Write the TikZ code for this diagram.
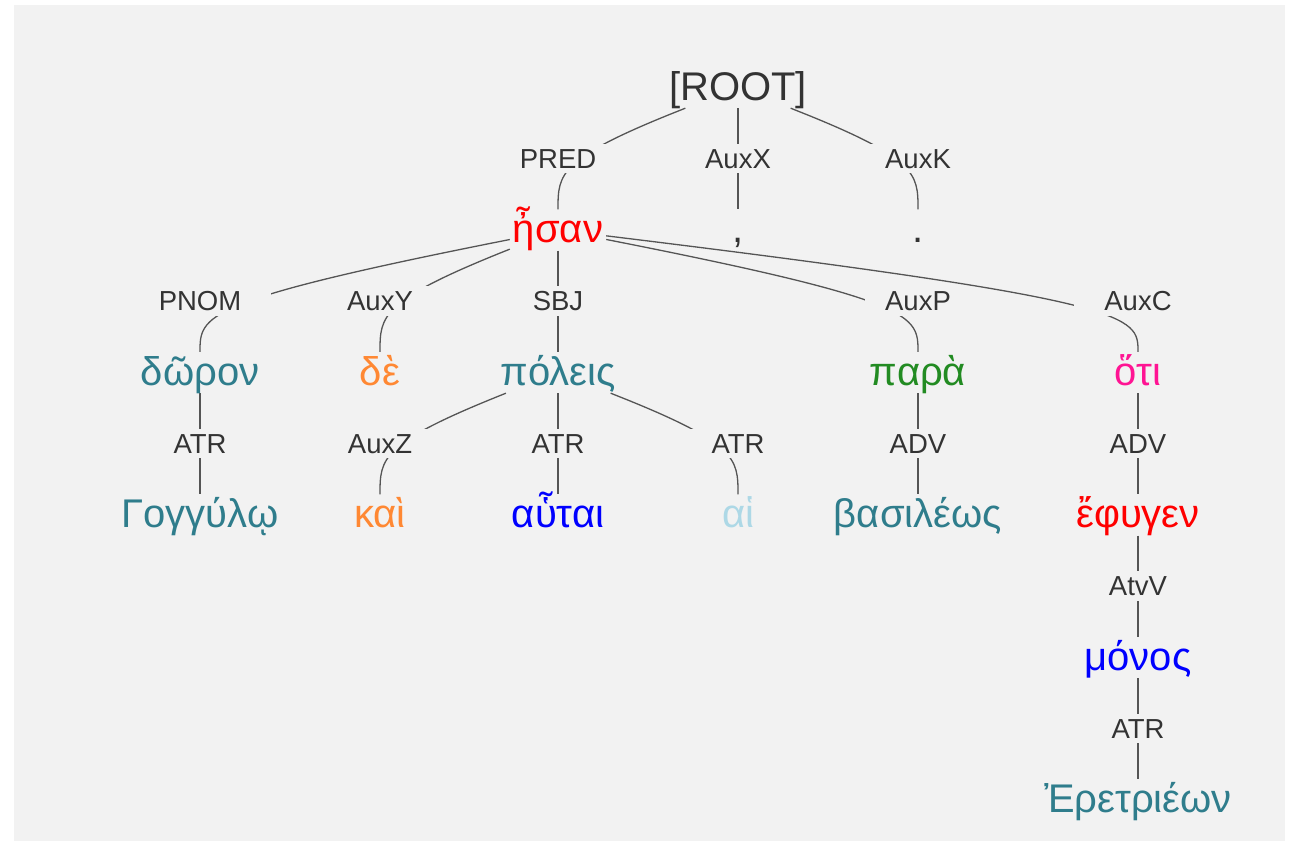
\documentclass[tikz,border=0pt]{standalone}
\usepackage{fontspec}
\setmainfont{Liberation Sans}
\usetikzlibrary{calc}
\definecolor{bggray}{HTML}{F2F2F2}
\definecolor{txtdark}{HTML}{333333}
\definecolor{edgegray}{HTML}{555555}
\definecolor{wteal}{HTML}{2F7D8C}
\definecolor{worange}{HTML}{FF8833}
\definecolor{wgreen}{HTML}{228B22}
\definecolor{wpink}{HTML}{FF1493}
\definecolor{wlblue}{HTML}{ADD8E6}
\definecolor{wblue}{HTML}{0000FF}
\definecolor{wred}{HTML}{FF0000}
\pgfdeclarelayer{bglayer}
\pgfdeclarelayer{edgelayer}
\pgfsetlayers{bglayer,edgelayer,main}
\newcommand\treeedge[3]{\draw[edge] (#1) .. controls (#2.center) and ($(#2.center)+(0,15)$) .. (#3);}
\begin{document}
\begin{tikzpicture}[x=1pt,y=-1pt,
  word/.style={font=\fontsize{40}{40}\selectfont, anchor=base, inner xsep=3pt, inner ysep=0pt, text height=33pt, text depth=8pt},
  lab/.style={font=\fontsize{27.5}{27.5}\selectfont, text=txtdark, anchor=base, fill=bggray, inner xsep=30pt, inner ysep=5pt, text height=19.5pt, text depth=0pt},
  edge/.style={draw=edgegray, line width=1.3pt}]
\useasboundingbox (0,0) rectangle (1289,843);
\begin{pgfonlayer}{bglayer}
\fill[bggray] (14,5) rectangle (1285,841);
\end{pgfonlayer}
% words
\node[word, text=txtdark] (root) at (738,100) {[ROOT]};
\node[word, text=wred] (esan) at (558,242.5) {ἦσαν};
\node[word, text=txtdark] (comma) at (738,242.5) {,};
\node[word, text=txtdark] (period) at (918,242.5) {.};
\node[word, text=wteal] (doron) at (200,385) {δῶρον};
\node[word, text=worange] (de) at (380,385) {δὲ};
\node[word, text=wteal] (poleis) at (558,385) {πόλεις};
\node[word, text=wgreen] (para) at (918,385) {παρὰ};
\node[word, text=wpink] (hoti) at (1138,385) {ὅτι};
\node[word, text=wteal] (gongylo) at (200,527.5) {Γογγύλῳ};
\node[word, text=worange] (kai) at (380,527.5) {καὶ};
\node[word, text=wblue] (autai) at (558,527.5) {αὗται};
\node[word, text=wlblue] (hai) at (738,527.5) {αἱ};
\node[word, text=wteal] (basileos) at (918,527.5) {βασιλέως};
\node[word, text=wred] (ephygen) at (1138,527.5) {ἔφυγεν};
\node[word, text=wblue] (monos) at (1138,670) {μόνος};
\node[word, text=wteal] (eretrieon) at (1138,812.5) {Ἐρετριέων};
% labels
\node[lab] (lpred) at (558,168) {PRED};
\node[lab] (lauxx) at (738,168) {AuxX};
\node[lab] (lauxk) at (918,168) {AuxK};
\node[lab] (lpnom) at (200,310.5) {PNOM};
\node[lab] (lauxy) at (380,310.5) {AuxY};
\node[lab] (lsbj) at (558,310.5) {SBJ};
\node[lab, inner xsep=20pt] (lauxp) at (918,310.5) {AuxP};
\node[lab] (lauxc) at (1138,310.5) {AuxC};
\node[lab] (latra) at (200,453) {ATR};
\node[lab] (lauxz) at (380,453) {AuxZ};
\node[lab] (latrb) at (558,453) {ATR};
\node[lab] (latrc) at (738,453) {ATR};
\node[lab] (ladva) at (918,453) {ADV};
\node[lab] (ladvb) at (1138,453) {ADV};
\node[lab] (latvv) at (1138,595.5) {AtvV};
\node[lab] (latrd) at (1138,738) {ATR};
% edges
\begin{pgfonlayer}{edgelayer}
\treeedge{root}{lpred}{esan}
\treeedge{root}{lauxx}{comma}
\treeedge{root}{lauxk}{period}
\treeedge{esan}{lpnom}{doron}
\treeedge{esan}{lauxy}{de}
\treeedge{esan}{lsbj}{poleis}
\treeedge{esan}{lauxp}{para}
\treeedge{esan}{lauxc}{hoti}
\treeedge{doron}{latra}{gongylo}
\treeedge{poleis}{lauxz}{kai}
\treeedge{poleis}{latrb}{autai}
\treeedge{poleis}{latrc}{hai}
\treeedge{para}{ladva}{basileos}
\treeedge{hoti}{ladvb}{ephygen}
\treeedge{ephygen}{latvv}{monos}
\treeedge{monos}{latrd}{eretrieon}
\end{pgfonlayer}
\end{tikzpicture}
\end{document}
